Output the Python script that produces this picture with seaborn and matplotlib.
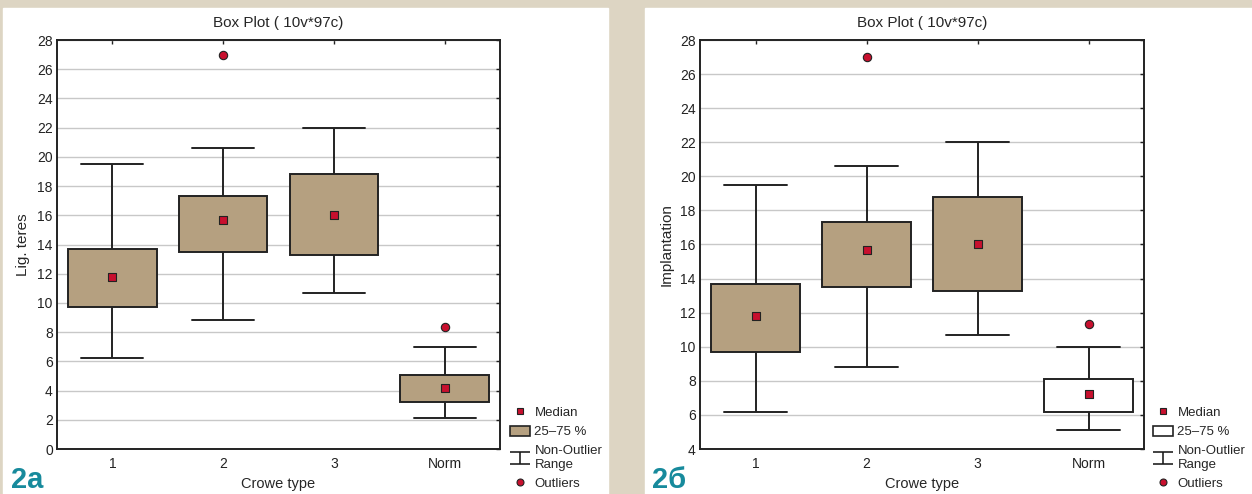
import seaborn as sns
import pandas as pd
import matplotlib.pyplot as plt
from matplotlib.patches import Rectangle, Patch
from matplotlib.lines import Line2D
from matplotlib.path import Path

groups = ["1", "2", "3", "Norm"]

# panel 2a - Lig. teres: non-outlier min, 25%, median, 75%, non-outlier max
lig_low = [6.2, 8.8, 10.7, 2.1]
lig_q1 = [9.7, 13.5, 13.3, 3.2]
lig_med = [11.8, 15.7, 16.0, 4.2]
lig_q3 = [13.7, 17.3, 18.8, 5.1]
lig_high = [19.5, 20.6, 22.0, 7.0]
lig_out_groups = ["2", "Norm"]
lig_out = [27.0, 8.35]

# panel 2b - Implantation
imp_low = [6.2, 8.8, 10.7, 5.1]
imp_q1 = [9.7, 13.5, 13.3, 6.2]
imp_med = [11.8, 15.7, 16.0, 7.2]
imp_q3 = [13.7, 17.3, 18.8, 8.1]
imp_high = [19.5, 20.6, 22.0, 10.0]
imp_out_groups = ["2", "Norm"]
imp_out = [27.0, 11.35]

BG = "#ddd5c3"
TAN = "#b5a080"
EDGE = "#222222"
RED = "#c8102e"
TEAL = "#178a9c"
W, H = 1252, 494

sns.set_style("white")
plt.rcParams["font.family"] = ["Liberation Sans", "DejaVu Sans"]


def box_frame(low, q1, med, q3, high):
    rows = []
    for g, *vals in zip(groups, low, q1, med, q3, high):
        for v in vals:
            rows.append({"group": g, "value": v})
    return pd.DataFrame(rows)


def draw_panel(ax, df, med, out_groups, out, fills, ylab, ylim, legend_x, fill_legend):
    sns.boxplot(data=df, x="group", y="value", hue="group", order=groups,
                hue_order=groups, palette=fills, saturation=1, legend=False,
                whis=(0, 100), width=0.8, linewidth=1.4, linecolor=EDGE,
                showfliers=False, medianprops=dict(linewidth=0),
                capwidths=0.56, ax=ax)
    sns.stripplot(x=groups, y=med, order=groups, jitter=False, marker="s",
                  size=6, color=RED, edgecolor=EDGE, linewidth=0.8,
                  legend=False, ax=ax, zorder=5)
    sns.stripplot(x=out_groups, y=out, order=groups, jitter=False, marker="o",
                  size=6, color=RED, edgecolor=EDGE, linewidth=0.8,
                  legend=False, ax=ax, zorder=5)
    ax.set_xlim(-0.5, 3.5)
    ax.set_ylim(*ylim)
    ax.set_yticks(range(ylim[0], ylim[1] + 1, 2))
    ax.set_axisbelow(True)
    ax.yaxis.grid(True, color="#c8c8c8", lw=1)
    ax.tick_params(direction="in", length=3, width=1, top=True, right=True,
                   labelsize=10, colors=EDGE, pad=3)
    ax.tick_params(axis="x", pad=6)
    for s in ax.spines.values():
        s.set_visible(True)
        s.set_color(EDGE)
        s.set_linewidth(1.4)
    ax.set_xlabel("Crowe type", fontsize=10.5, labelpad=4)
    ax.set_ylabel(ylab, fontsize=11, labelpad=5)
    ax.set_title("Box Plot ( 10v*97c)", fontsize=11, pad=9)

    whisk = Path([(-1, 0.55), (1, 0.55), (0, 0.55), (0, -0.55), (-1, -0.55), (1, -0.55)],
                 [Path.MOVETO, Path.LINETO, Path.MOVETO, Path.LINETO, Path.MOVETO, Path.LINETO])
    handles = [
        Line2D([], [], marker="s", ls="none", ms=5, mfc=RED, mec=EDGE, mew=0.8),
        Patch(facecolor=fill_legend, edgecolor=EDGE, linewidth=1.2),
        Line2D([], [], marker=whisk, ls="none", ms=15, mfc="none", mec=EDGE, mew=1.2),
        Line2D([], [], marker="o", ls="none", ms=5, mfc=RED, mec=EDGE, mew=0.8),
    ]
    labels = ["Median", "25\u201375 %", "Non-Outlier\nRange", "Outliers"]
    ax.legend(handles, labels, loc="lower left",
              bbox_to_anchor=(legend_x / W, 4 / H), bbox_transform=ax.figure.transFigure,
              frameon=False, fontsize=9.5, handlelength=1.55, handleheight=0.8,
              handletextpad=0.3, labelspacing=0.5, borderaxespad=0, borderpad=0)


fig = plt.figure(figsize=(W / 100, H / 100), dpi=100)
fig.patch.set_facecolor(BG)
fig.patches.append(Rectangle((3 / W, 0), (608 - 3) / W, (H - 8) / H,
                             transform=fig.transFigure, facecolor="white", zorder=-10))
fig.patches.append(Rectangle((645 / W, 0), (W - 645) / W, (H - 8) / H,
                             transform=fig.transFigure, facecolor="white", zorder=-10))

ax1 = fig.add_axes([57 / W, 1 - 449 / H, (500 - 57) / W, (449 - 40) / H])
ax2 = fig.add_axes([700 / W, 1 - 449 / H, (1144 - 700) / W, (449 - 40) / H])

draw_panel(ax1, box_frame(lig_low, lig_q1, lig_med, lig_q3, lig_high), lig_med,
           lig_out_groups, lig_out, {g: TAN for g in groups}, "Lig. teres",
           (0, 28), 510, TAN)
draw_panel(ax2, box_frame(imp_low, imp_q1, imp_med, imp_q3, imp_high), imp_med,
           imp_out_groups, imp_out, {"1": TAN, "2": TAN, "3": TAN, "Norm": "white"},
           "Implantation", (4, 28), 1153, "white")

fig.text(11 / W, 1 - 488 / H, "2a", fontsize=21, fontweight="bold", color=TEAL)
fig.text(652 / W, 1 - 488 / H, "2\u0431", fontsize=21, fontweight="bold", color=TEAL)

fig.savefig("out.png", dpi=100, facecolor=fig.get_facecolor())
